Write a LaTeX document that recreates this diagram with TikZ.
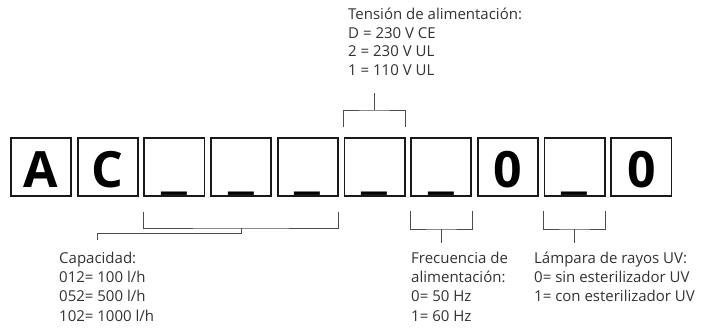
\documentclass[tikz,border=0pt]{standalone}
\usepackage{fontspec}
\setmainfont{Open Sans}
\usetikzlibrary{positioning,calc}

\newcommand{\emptyslot}{\scalebox{1.25}[1]{\_}}

\begin{document}
\begin{tikzpicture}[x=1pt,y=-1pt,
  digit/.style={draw=black!90, line width=1.8pt, minimum width=60.2pt, minimum height=58.2pt, inner sep=0pt,
    text height=40pt, text depth=0pt, font=\fontsize{50}{50}\selectfont\bfseries},
  brk/.style={draw=black!70, line width=0.9pt},
  info/.style={anchor=base west, align=left, inner sep=0pt, font=\fontsize{15}{19.3}\selectfont, text=black!80},
]
\useasboundingbox (0,0) rectangle (703,331);
\fill[white] (0,0) rectangle (703,331);
% ---- code boxes ----
\foreach \ch [count=\i] in {A,C,\emptyslot,\emptyslot,\emptyslot,\emptyslot,\emptyslot,0,\emptyslot,0}
  \node[digit] (b\i) at (41+66.7*\i-66.7,167) {\ch};
% ---- texts (base = last line) ----
\node[info, font=\fontsize{15}{18.5}\selectfont] (volt) at (348,75.5) {Tensión de alimentación:\\D = 230 V CE\\2 = 230 V UL\\1 = 110 V UL};
\node[info] (cap) at (59,321) {Capacidad:\\012= 100 l/h\\052= 500 l/h\\102= 1000 l/h};
\node[info] (freq) at (411,321) {Frecuencia de\\alimentación:\\0= 50 Hz\\1= 60 Hz};
\node[info] (uv) at (534,301.6) {Lámpara de rayos UV:\\0= sin esterilizador UV\\1= con esterilizador UV};
% ---- brackets ----
\coordinate (voltM) at ([yshift=27pt]b6.north);
\coordinate (voltT) at ([yshift=44pt]b6.north);
\draw[brk] ([yshift=10pt]b6.north west) |- (voltM) -| ([yshift=10pt]b6.north east);
\draw[brk] (voltM) -- (voltT);
\coordinate (capL) at ([yshift=-15pt]b3.south west);
\coordinate (capR) at ([yshift=-15pt]b5.south east);
\coordinate (capM) at ($(capL)!0.5!(capR)+(0,16)$);
\coordinate (capT) at (97,240);
\draw[brk] (capL) |- (capM) -| (capR);
\draw[brk] (capM) -- ++(0,5) -| (capT);
\coordinate (freqM) at ([yshift=-32pt]b7.south);
\coordinate (freqT) at ([yshift=-46pt]b7.south);
\draw[brk] ([yshift=-14pt]b7.south west) |- (freqM) -| ([yshift=-14pt]b7.south east);
\draw[brk] (freqM) -- (freqT);
\coordinate (uvM) at ([yshift=-32pt]b9.south);
\coordinate (uvT) at ([yshift=-46pt]b9.south);
\draw[brk] ([yshift=-14pt]b9.south west) |- (uvM) -| ([yshift=-14pt]b9.south east);
\draw[brk] (uvM) -- (uvT);
\end{tikzpicture}
\end{document}
